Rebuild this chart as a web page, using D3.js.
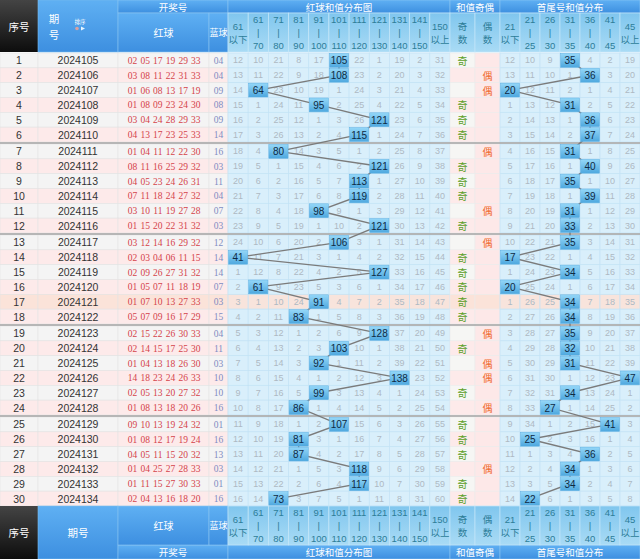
<!DOCTYPE html>
<html><head><meta charset="utf-8">
<script src="https://cdn.jsdelivr.net/npm/d3@7"></script>
<style>body{margin:0;background:#fff}svg{display:block}</style>
</head><body>
<svg id="c" width="640" height="559"></svg>
<script>
// ---------------- data ----------------
const periods = ["2024105","2024106","2024107","2024108","2024109","2024110","2024111","2024112","2024113","2024114",
"2024115","2024116","2024117","2024118","2024119","2024120","2024121","2024122","2024123","2024124",
"2024125","2024126","2024127","2024128","2024129","2024130","2024131","2024132","2024133","2024134"];
const reds = [
["02","05","17","19","29","33"],["03","08","11","22","31","33"],["01","06","08","13","17","19"],["01","08","09","23","24","30"],
["03","04","24","28","29","33"],["04","13","17","23","25","33"],["01","04","11","12","22","30"],["08","11","16","25","29","32"],
["04","05","23","24","26","31"],["07","11","18","24","27","32"],["03","10","11","19","27","28"],["01","15","20","22","31","32"],
["03","12","14","16","29","32"],["02","03","04","06","11","15"],["02","09","26","27","31","32"],["01","05","07","11","18","19"],
["01","07","10","13","27","33"],["05","07","09","16","17","29"],["02","15","22","26","30","33"],["02","14","15","17","25","30"],
["01","04","13","18","26","30"],["14","18","23","24","26","33"],["02","05","13","20","27","32"],["01","08","13","18","20","26"],
["09","10","13","19","24","32"],["01","08","12","17","19","24"],["04","05","11","15","20","32"],["01","04","25","27","28","33"],
["01","11","15","27","30","33"],["02","04","13","16","18","20"]];
const blues = ["04","04","09","08","09","14","16","03","11","04","07","03","12","14","14","07","03","15","04","11","03","10","10","16","01","16","13","03","01","16"];
const sums = [105,108,64,95,121,115,80,121,113,119,98,121,106,41,127,61,91,83,128,103,92,138,99,86,107,81,87,118,117,73];
const tails = [35,36,20,31,36,37,31,40,35,39,31,33,35,17,34,20,34,34,35,32,31,47,34,27,41,25,36,34,34,22];
const parity = ["奇","偶","偶","奇","奇","奇","偶","奇","奇","奇","偶","奇","偶","奇","奇","奇","奇","奇","偶","奇","偶","偶","奇","偶","奇","奇","奇","偶","奇","奇"];
const H = null; // hit cell
const sumMiss = [
[12,10,21,8,17,H,22,1,19,2,31],[13,11,22,9,18,H,23,2,20,3,32],[14,H,23,10,19,1,24,3,21,4,33],[15,1,24,11,H,2,25,4,22,5,34],
[16,2,25,12,1,3,26,H,23,6,35],[17,3,26,13,2,4,H,1,24,7,36],[18,4,H,14,3,5,1,2,25,8,37],[19,5,1,15,4,6,2,H,26,9,38],
[20,6,2,16,5,7,H,1,27,10,39],[21,7,3,17,6,8,H,2,28,11,40],[22,8,4,18,H,9,1,3,29,12,41],[23,9,5,19,1,10,2,H,30,13,42],
[24,10,6,20,2,H,3,1,31,14,43],[H,11,7,21,3,1,4,2,32,15,44],[1,12,8,22,4,2,5,H,33,16,45],[2,H,9,23,5,3,6,1,34,17,46],
[3,1,10,24,H,4,7,2,35,18,47],[4,2,11,H,1,5,8,3,36,19,48],[5,3,12,1,2,6,9,H,37,20,49],[6,4,13,2,3,H,10,1,38,21,50],
[7,5,14,3,H,1,11,2,39,22,51],[8,6,15,4,1,2,12,3,H,23,52],[9,7,16,5,H,3,13,4,1,24,53],[10,8,17,H,1,4,14,5,2,25,54],
[11,9,18,1,2,H,15,6,3,26,55],[12,10,19,H,3,1,16,7,4,27,56],[13,11,20,H,4,2,17,8,5,28,57],[14,12,21,1,5,3,H,9,6,29,58],
[15,13,22,2,6,4,H,10,7,30,59],[16,14,H,3,7,5,1,11,8,31,60]];
const tailMiss = [
[12,10,9,H,4,2,19],[13,11,10,1,H,3,20],[H,12,11,2,1,4,21],[1,13,12,H,2,5,22],[2,14,13,1,H,6,23],[3,15,14,2,H,7,24],
[4,16,15,H,1,8,25],[5,17,16,1,H,9,26],[6,18,17,H,1,10,27],[7,19,18,1,H,11,28],[8,20,19,H,1,12,29],[9,21,20,H,2,13,30],
[10,22,21,H,3,14,31],[H,23,22,1,4,15,32],[1,24,23,H,5,16,33],[H,25,24,1,6,17,34],[1,26,25,H,7,18,35],[2,27,26,H,8,19,36],
[3,28,27,H,9,20,37],[4,29,28,H,10,21,38],[5,30,29,H,11,22,39],[6,31,30,1,12,23,H],[7,32,31,H,13,24,1],[8,33,H,1,14,25,2],
[9,34,1,2,15,H,3],[10,H,2,3,16,1,4],[11,1,3,4,H,2,5],[12,2,4,H,1,3,6],[13,3,5,H,2,4,7],[14,H,6,1,3,5,8]];
const sumLabels = [["61","以下"],["61","|","70"],["71","|","80"],["81","|","90"],["91","|","100"],["101","|","110"],["111","|","120"],["121","|","130"],["131","|","140"],["141","|","150"],["150","以上"]];
const parLabels = [["奇","数"],["偶","数"]];
const tailLabels = [["21","以下"],["21","|","25"],["26","|","30"],["31","|","35"],["36","|","40"],["41","|","45"],["45","以上"]];
const sumThresholds = [61,71,81,91,101,111,121,131,141,151];
const tailThresholds = [21,26,31,36,41,46];
const hoverRow = 16;

// ---------------- layout ----------------
const FONT = "'Liberation Sans','Noto Sans CJK SC',sans-serif";
const CJK = "'Noto Sans CJK SC','Liberation Sans',sans-serif";
const svg = d3.select('#c');
const N = periods.length;
const G = 0.135;
const y = d3.scaleLinear().domain([0, N + 4*G]).range([53, 506]);
const rowTop = i => y(i + Math.floor(i/6)*G);
const rowH = y(1) - y(0);
const xSum = d3.scaleBand().domain(d3.range(11)).range([228, 450]);
const xPar = d3.scaleBand().domain(["奇","偶"]).range([450, 500]);
const xTail = d3.scaleBand().domain(d3.range(7)).range([500, 640]);
const xBall = d3.scalePoint().domain(d3.range(6)).range([132.5, 195.8]);
const sumBin = d3.scaleThreshold().domain(sumThresholds).range(d3.range(11));
const tailBin = d3.scaleThreshold().domain(tailThresholds).range(d3.range(7));
const leftCols = [[0,38],[38,118],[118,209],[209,228]];

const defs = svg.append('defs');
function grad(id, stops){
  const g = defs.append('linearGradient').attr('id',id).attr('x1',0).attr('y1',0).attr('x2',0).attr('y2',1);
  stops.forEach(([o,c])=>g.append('stop').attr('offset',o).attr('stop-color',c));
}
grad('gBlue',[[0,'#5fb0f3'],[1,'#3d8fe0']]);
grad('gDark',[[0,'#444'],[1,'#0d0d0d']]);
grad('gLight',[[0,'#80c6ee'],[1,'#a9dbf5']]);
grad('gHit',[[0,'#94d7f8'],[1,'#4ea8df']]);

// ---------------- body rows ----------------
const body = svg.append('g');
for (let i=0;i<N;i++){
  const t = rowTop(i);
  const bg = i===hoverRow ? '#fbe3d9' : (i%2===0 ? '#f4f4f4' : '#fdeaea');
  leftCols.forEach(([a,b])=>{
    body.append('rect').attr('x',a).attr('y',t).attr('width',b-a).attr('height',rowH)
      .attr('fill',bg).attr('stroke','#e3e3e3').attr('stroke-width',0.6);
  });
  body.append('text').attr('x',19).attr('y',t+rowH/2).text(i+1)
    .attr('font-size',10.5).attr('fill','#333').attr('text-anchor','middle').attr('dominant-baseline','central').attr('font-family',FONT);
  body.append('text').attr('x',78).attr('y',t+rowH/2).text(periods[i])
    .attr('font-size',10.5).attr('fill','#333').attr('text-anchor','middle').attr('dominant-baseline','central').attr('font-family',FONT);
  reds[i].forEach((r,k)=>{
    body.append('text').attr('x',xBall(k)).attr('y',t+rowH/2+0.5).text(r)
      .attr('font-size',9.5).attr('fill','#d4434a').attr('text-anchor','middle').attr('dominant-baseline','central')
      .attr('font-family',"'Liberation Serif',serif");
  });
  body.append('text').attr('x',218.5).attr('y',t+rowH/2+0.5).text(blues[i])
    .attr('font-size',9.5).attr('fill','#7f8cc2').attr('text-anchor','middle').attr('dominant-baseline','central')
    .attr('font-family',"'Liberation Serif',serif");

  const gbg = i===hoverRow ? '#f8e4dc' : '#d9effb';
  sumMiss[i].forEach((v,c)=>{
    body.append('rect').attr('x',xSum(c)).attr('y',t).attr('width',xSum.bandwidth()).attr('height',rowH)
      .attr('fill',gbg).attr('stroke','#c3e3f5').attr('stroke-width',0.7);
    if (v!==null) body.append('text').attr('x',xSum(c)+xSum.bandwidth()/2).attr('y',t+rowH/2).text(v)
      .attr('font-size',9).attr('fill','#aeb9c3').attr('text-anchor','middle').attr('dominant-baseline','central').attr('font-family',FONT);
  });
  ["奇","偶"].forEach(p=>{
    const f = i===hoverRow ? '#fbe3d9' : (p==="偶" ? '#fde8e8' : (i%2===0 ? '#f6f6f4' : '#fdeaea'));
    body.append('rect').attr('x',xPar(p)).attr('y',t).attr('width',xPar.bandwidth()).attr('height',rowH)
      .attr('fill',f).attr('stroke','#ececec').attr('stroke-width',0.6);
  });
  body.append('text').attr('x',xPar(parity[i])+xPar.bandwidth()/2).attr('y',t+rowH/2).text(parity[i])
    .attr('font-size',10).attr('fill',parity[i]==="奇"?'#5b9f28':'#f06a2e').attr('text-anchor','middle')
    .attr('dominant-baseline','central').attr('font-family',CJK);
  tailMiss[i].forEach((v,c)=>{
    body.append('rect').attr('x',xTail(c)).attr('y',t).attr('width',xTail.bandwidth()).attr('height',rowH)
      .attr('fill',gbg).attr('stroke','#c3e3f5').attr('stroke-width',0.7);
    if (v!==null) body.append('text').attr('x',xTail(c)+xTail.bandwidth()/2).attr('y',t+rowH/2).text(v)
      .attr('font-size',9).attr('fill','#aeb9c3').attr('text-anchor','middle').attr('dominant-baseline','central').attr('font-family',FONT);
  });
}
for (let k=1;k<5;k++){
  const yy = rowTop(6*k) - (rowTop(6*k) - (rowTop(6*k-1)+rowH))/2;
  body.append('line').attr('x1',0).attr('x2',640).attr('y1',yy).attr('y2',yy).attr('stroke','#a0a0a0').attr('stroke-width',1.5);
}

// ---------------- trend lines & hit boxes ----------------
function trend(values, xs, binF){
  const pts = values.map((v,i)=>[xs(binF(v))+xs.bandwidth()/2, rowTop(i)+rowH/2]);
  svg.append('path').attr('d', d3.line()(pts)).attr('fill','none').attr('stroke','#7b7b7b').attr('stroke-width',1.4);
  values.forEach((v,i)=>{
    const x0 = xs(binF(v)), t = rowTop(i);
    svg.append('rect').attr('x',x0+0.5).attr('y',t+0.5).attr('width',xs.bandwidth()-1).attr('height',rowH-1)
      .attr('fill','url(#gHit)').attr('stroke','#5eb0e3').attr('stroke-width',0.5);
    svg.append('text').attr('x',x0+xs.bandwidth()/2).attr('y',t+rowH/2+0.5).text(v)
      .attr('font-size',10).attr('fill','#0e2a44').attr('text-anchor','middle').attr('dominant-baseline','central').attr('font-family',FONT);
  });
}
trend(sums, xSum, sumBin);
trend(tails, xTail, tailBin);

// ---------------- header / footer ----------------
function txt(g,x,yy,s,size,fill,fam){
  return g.append('text').attr('x',x).attr('y',yy).text(s).attr('font-size',size).attr('fill',fill)
    .attr('text-anchor','middle').attr('dominant-baseline','central').attr('font-family',fam||CJK);
}
function band(g,labTop,labH,titleTop,titleH,footer){
  const full0 = Math.min(labTop,titleTop), fullH = labH+titleH;
  g.append('rect').attr('x',0).attr('y',full0).attr('width',38).attr('height',fullH).attr('fill','url(#gDark)');
  txt(g,19,full0+fullH/2,'序号',10.5,'#fff');
  g.append('rect').attr('x',38).attr('y',full0).attr('width',80).attr('height',fullH).attr('fill','url(#gBlue)')
    .attr('stroke','#7bbcef').attr('stroke-width',0.6);
  if (!footer){
    txt(g,54,18,'期',10.5,'#fff'); txt(g,54,34,'号',10.5,'#fff');
    txt(g,80,22,'排序',5.5,'#fff');
    g.append('circle').attr('cx',77).attr('cy',28.5).attr('r',1.8).attr('fill','#d9a0a0');
    g.append('path').attr('d','M81,26.5 L85,28.5 L81,30.5 Z').attr('fill','#e8f6ff');
  } else {
    txt(g,78,full0+fullH/2,'期号',10.5,'#fff');
  }
  [[118,228,'开奖号'],[228,450,'红球和值分布图'],[450,500,'和值奇偶'],[500,640,'首尾号和值分布']].forEach(([a,b,s])=>{
    g.append('rect').attr('x',a).attr('y',titleTop).attr('width',b-a).attr('height',titleH)
      .attr('fill','url(#gBlue)').attr('stroke','#8cc6f2').attr('stroke-width',0.6);
    txt(g,(a+b)/2,titleTop+titleH/2,s,9.5,'#fff');
  });
  [[118,209,'红球',10],[209,228,'蓝球',9]].forEach(([a,b,s,fs])=>{
    g.append('rect').attr('x',a).attr('y',labTop).attr('width',b-a).attr('height',labH)
      .attr('fill','url(#gBlue)').attr('stroke','#8cc6f2').attr('stroke-width',0.6);
    txt(g,(a+b)/2,labTop+labH/2,s,fs,'#fff');
  });
  const cy = labTop + labH/2;
  function labs(scale, domain, labels){
    domain.forEach((d,k)=>{
      g.append('rect').attr('x',scale(d)).attr('y',labTop).attr('width',scale.bandwidth()).attr('height',labH)
        .attr('fill','url(#gLight)').attr('stroke','#c4e6f8').attr('stroke-width',0.7);
      const L = labels[k], cx = scale(d)+scale.bandwidth()/2;
      const off = L.length===3 ? [-13,0,13] : [-6.5,6.5];
      L.forEach((s,j)=>txt(g,cx,cy+off[j],s,9.5,'#2d7d98', /[0-9|]/.test(s)?FONT:CJK));
    });
  }
  labs(xSum, d3.range(11), sumLabels);
  labs(xPar, ["奇","偶"], parLabels);
  labs(xTail, d3.range(7), tailLabels);
}
band(svg.append('g'),13,39,0,13,false);
band(svg.append('g'),506,39,545,14,true);
</script>
</body></html>
